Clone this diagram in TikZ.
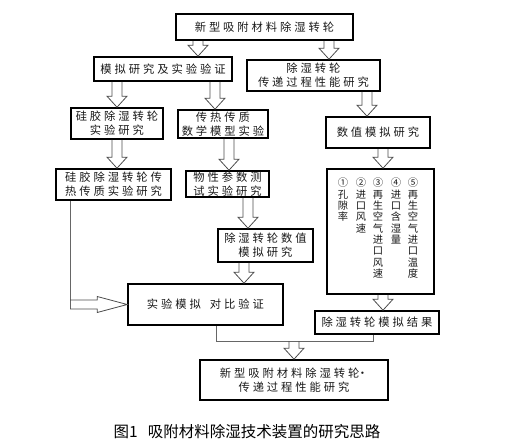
\documentclass[tikz,border=0pt]{standalone}
\usepackage{fontspec}
\newfontfamily\cjk[LetterSpace=26]{Noto Sans CJK SC}
\newfontfamily\cjkv{Noto Sans CJK SC}
\usetikzlibrary{calc}

\begin{document}
\begin{tikzpicture}[x=1pt,y=-1pt,
  box/.style={draw, line width=1.6pt, align=center, inner sep=0pt, text=black!90, font=\fontsize{11.3}{14}\selectfont\cjk},
  col/.style={align=center, inner sep=0pt, anchor=north, text=black!90, font=\fontsize{10.3}{11.3}\selectfont\cjkv},
  arr/.style n args={3}{draw=black!70, line width=0.8pt, to path={
    ($(\tikztotarget)!#1!(\tikztostart)$) coordinate (hb)
    ($(\tikztostart)!#3!90:(\tikztotarget)$) -- ($(hb)!#3!-90:(\tikztostart)$) -- ($(hb)!#2!-90:(\tikztostart)$)
    -- (\tikztotarget) -- ($(hb)!#2!90:(\tikztostart)$) -- ($(hb)!#3!90:(\tikztostart)$) -- ($(\tikztostart)!#3!-90:(\tikztotarget)$)}},
  hollow/.style={arr={11pt}{10pt}{5pt}},
  hollow long/.style={arr={30pt}{8pt}{4.5pt}},
  conn/.style={draw=black!60, line width=0.8pt}]
\useasboundingbox (0,0) rectangle (512,444);

\node[box, minimum width=177pt, minimum height=26pt] (top) at (264.5,27) {新型吸附材料除湿转轮};
\node[box, minimum width=138pt, minimum height=24pt] (mn) at (163,69) {模拟研究及实验验证};
\node[box, minimum width=133pt, minimum height=31pt] (cs) at (313.5,75.5) {除湿转轮\\传递过程性能研究};
\node[box, minimum width=92pt, minimum height=31pt] (gj1) at (117,123.5) {硅胶除湿转轮\\实验研究};
\node[box, minimum width=90pt, minimum height=28pt] (cr) at (223,124) {传热传质\\数学模型实验};
\node[box, minimum width=104pt, minimum height=31pt] (sz) at (378,132.5) {数值模拟研究};
\node[box, minimum width=115pt, minimum height=31pt] (gj2) at (113.5,184.5) {硅胶除湿转轮传\\热传质实验研究};
\node[box, minimum width=83pt, minimum height=26pt] (wx) at (227.5,184) {物性参数测\\试实验研究};
\node[box, minimum width=95pt, minimum height=33pt] (szmn) at (265.5,245.5) {除湿转轮数值\\模拟研究};
\node[box, minimum width=107pt, minimum height=125pt] (list) at (380.5,231.5) {};
\node[box, minimum width=155pt, minimum height=41pt] (dbyz) at (205.5,304.5) {实验模拟\hspace{9pt}对比验证};
\node[box, minimum width=124pt, minimum height=23pt] (jg) at (377,322.5) {除湿转轮模拟结果};
\node[box, minimum width=188pt, minimum height=40pt] (final) at (294,380) {新型吸附材料除湿转轮\kern-2.5pt·\\传递过程性能研究};

% parameters in the list box
\foreach \x/\txt [count=\i] in {343/{①\\孔\\隙\\率}, 361/{②\\进\\口\\风\\速},
  378/{③\\再\\生\\空\\气\\进\\口\\风\\速}, 396/{④\\进\\口\\含\\湿\\量},
  413/{⑤\\再\\生\\空\\气\\进\\口\\温\\度}}
  \node[col] (v\i) at (\x,178) {\txt};

\draw[hollow] (top.south -| 198,0) to (mn.north -| 198,0);
\draw[hollow] (top.south -| 329,0) to (cs.north -| 329,0);
\draw[hollow] (mn.south -| gj1.north) to (gj1.north);
\draw[hollow] (mn.south -| 215,0) to (cr.north -| 215,0);
\draw[hollow] (cs.south -| 367,0) to (sz.north -| 367,0);
\draw[hollow] (gj1.south -| 117,0) to (gj2.north -| 117,0);
\draw[hollow] (cr.south -| 229,0) to (wx.north -| 229,0);
\draw[hollow] (sz.south -| 383,0) to (list.north -| 383,0);
\draw[hollow] (wx.south -| 248,0) to (szmn.north -| 248,0);
\draw[hollow] (szmn.south -| 244,0) to (dbyz.north -| 244,0);
\draw[hollow] (list.south -| 383,0) to (jg.north -| 383,0);

% side and bottom connectors
\coordinate (c1) at ([xshift=15pt]gj2.south west |- dbyz.west);
\draw[conn] ([xshift=15pt]gj2.south west) -- ([yshift=-4.5pt]c1);
\draw[hollow long] (c1) to (dbyz.west);
\coordinate (jn) at ($(final.north)+(0,-18)$);
\draw[conn] ([xshift=10.5pt]dbyz.south) |- (jn) -| ([xshift=-4pt]jg.south);
\draw[hollow] (jn) to (final.north);

\node[font=\fontsize{15.5}{17}\selectfont\cjkv] (cap) at (247,432) {图1\hspace{10pt}吸附材料除湿技术装置的研究思路};
\end{tikzpicture}
\end{document}
